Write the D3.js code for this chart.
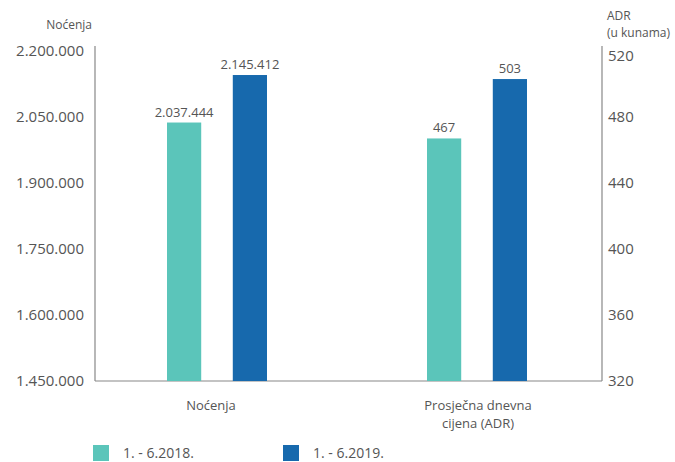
<!DOCTYPE html>
<html><head><meta charset="utf-8">
<script src="https://cdn.jsdelivr.net/npm/d3@7"></script>
<style>body{margin:0;background:#fff}text{font-family:"Open Sans",sans-serif;fill:#555}</style>
</head><body><svg id="c" width="675" height="462"></svg>
<script>
const categories = ["Noćenja", "Prosječna dnevna\ncijena (ADR)"];
const series = ["1. - 6.2018.", "1. - 6.2019."];
const nocenja = [2037444, 2145412];
const adr = [467, 503];
const leftTicks = [1450000, 1600000, 1750000, 1900000, 2050000, 2200000];
const rightTicks = [320, 360, 400, 440, 480, 520];
const colors = ["#5bc5ba", "#1769ad"];

const svg = d3.select("#c");
const L = 95, R = 602, B = 381, T = 46;
const fmt = v => d3.format(",")(v).replace(/,/g, ".");
const yL = d3.scaleLinear().domain([1450000, 2200000]).range([B, 51]);
const yR = d3.scaleLinear().domain([320, 520]).range([B, 51]);
const x = d3.scaleBand().domain(categories).range([87, 607]);
const xs = d3.scaleBand().domain(series).range([-50, 50]).paddingInner(0.48);

// axes
svg.append("line").attr("x1", L).attr("x2", L).attr("y1", T).attr("y2", B).attr("stroke", "#888").attr("stroke-width", 1.2);
svg.append("line").attr("x1", R).attr("x2", R).attr("y1", T).attr("y2", B).attr("stroke", "#888").attr("stroke-width", 1.2);
svg.append("line").attr("x1", L).attr("x2", R).attr("y1", B).attr("y2", B).attr("stroke", "#888").attr("stroke-width", 1.2);

svg.append("g").selectAll("text").data(leftTicks).join("text")
  .attr("x", 84).attr("y", d => yL(d)).attr("dy", "0.35em").attr("text-anchor", "end")
  .attr("font-size", 15).text(fmt);
svg.append("g").selectAll("text").data(rightTicks).join("text")
  .attr("x", 608).attr("y", d => yR(d) + (d === 520 ? 5 : 0)).attr("dy", "0.35em")
  .attr("font-size", 15).text(d => d);

svg.append("text").attr("x", 92).attr("y", 29).attr("text-anchor", "end").attr("font-size", 12).text("Noćenja");
svg.append("text").attr("x", 607).attr("y", 20).attr("font-size", 12).text("ADR");
svg.append("text").attr("x", 607).attr("y", 37).attr("font-size", 12).text("(u kunama)");

// bars
const groups = [
  {cat: categories[0], vals: nocenja, y: yL, lab: fmt, dx: -6},
  {cat: categories[1], vals: adr, y: yR, lab: d => d, dx: 1}
];
groups.forEach(g => {
  const cx = x(g.cat) + x.bandwidth() / 2;
  g.vals.forEach((v, i) => {
    const bx = cx + xs(series[i]);
    svg.append("rect").attr("x", bx).attr("width", xs.bandwidth())
      .attr("y", g.y(v)).attr("height", B - g.y(v)).attr("fill", colors[i]);
    svg.append("text").attr("x", bx + xs.bandwidth() / 2).attr("y", g.y(v) - 6)
      .attr("text-anchor", "middle").attr("font-size", 13).text(g.lab(v));
  });
  const lines = g.cat.split("\n");
  lines.forEach((ln, k) => {
    svg.append("text").attr("x", cx + g.dx).attr("y", 410 + k * 18).attr("text-anchor", "middle")
      .attr("font-size", 13).text(ln);
  });
});

// legend
const legX = [93, 283];
series.forEach((s, i) => {
  svg.append("rect").attr("x", legX[i]).attr("y", 445).attr("width", 16).attr("height", 16).attr("fill", colors[i]);
  svg.append("text").attr("x", legX[i] + 30).attr("y", 453).attr("dy", "0.35em").attr("font-size", 14).text(s);
});
</script></body></html>
